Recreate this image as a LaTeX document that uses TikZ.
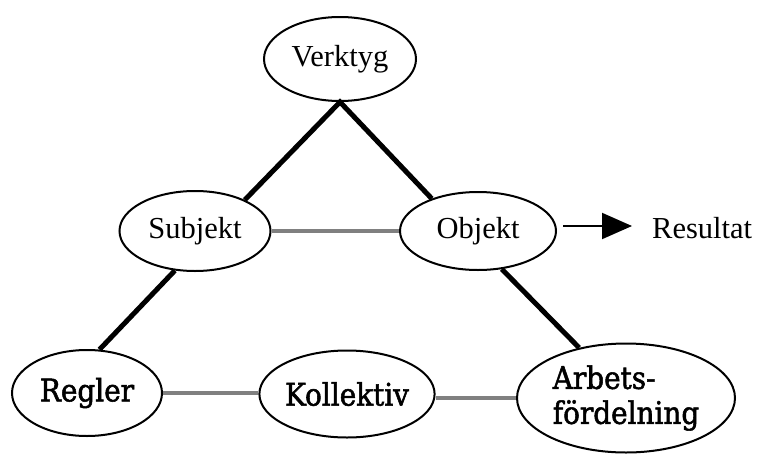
\documentclass[tikz,border=0pt]{standalone}
\usepackage{fontspec}
\setmainfont{Liberation Serif}
\newfontfamily\lowfont{DejaVu Serif Condensed}[FakeBold=1.7]
\usetikzlibrary{shapes.geometric,arrows.meta}

\tikzset{
  oval/.style={ellipse, draw=black, line width=2pt, inner sep=0pt, fill=white},
  upper/.style={oval, font=\fontsize{30.5}{36}\selectfont},
  lower/.style={oval, font=\lowfont\fontsize{31}{35}\selectfont},
  blackedge/.style={line width=5pt, black, line join=miter},
  greyedge/.style={line width=4pt, draw={rgb,255:red,128;green,128;blue,128}},
}

\begin{document}
\begin{tikzpicture}[x=1pt, y=-1pt]
  \useasboundingbox (0,0) rectangle (757,455);

  \node[upper, minimum width=152pt, minimum height=84pt] (verktyg) at (340,59) {Verktyg};
  \node[upper, minimum width=151pt, minimum height=80pt] (subjekt) at (195,231) {Subjekt};
  \node[upper, minimum width=156pt, minimum height=78pt] (objekt) at (478,231) {Objekt};
  \node[lower, minimum width=150pt, minimum height=86pt] (regler) at (87,393) {Regler};
  \node[lower, minimum width=149pt, minimum height=87pt] (kollektiv) at (347,394) {Kollektiv};
  \node[lower, minimum width=218pt, minimum height=109pt, align=left] (arbets) at (626,398) {Arbets-\\fördelning};
  \node[font=\fontsize{30.5}{36}\selectfont, inner sep=0pt, anchor=west] (resultat) at (652,228) {Resultat};

  % black triangle edges
  \draw[blackedge] (subjekt.32) -- (verktyg.south) -- (objekt.145);
  \draw[blackedge] (subjekt.243) -- (regler.74);
  \draw[blackedge] (objekt.302) -- (arbets.133);

  % grey edges
  \draw[greyedge] (subjekt.east) -- (objekt.west);
  \draw[greyedge] (regler.east) -- (regler.east -| kollektiv.west);
  \draw[greyedge] (kollektiv.east |- arbets.west) -- (arbets.west);

  % result arrow
  \coordinate (rstart) at (563,226);
  \draw[line width=2pt, -{Triangle[length=30pt, width=26pt]}, shorten >=20pt]
    (rstart) -- (rstart -| resultat.west);
\end{tikzpicture}
\end{document}
